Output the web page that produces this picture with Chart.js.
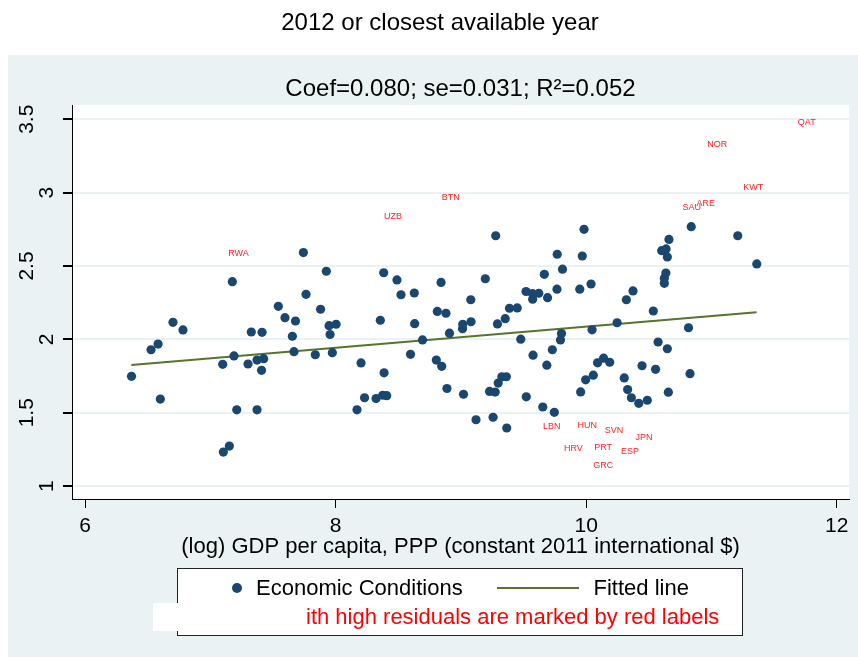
<!DOCTYPE html>
<html>
<head>
<meta charset="utf-8">
<script src="https://cdn.jsdelivr.net/npm/chart.js@4.4.1/dist/chart.umd.min.js"></script>
<style>
  html, body { margin: 0; padding: 0; background: #fff; }
</style>
</head>
<body>
<canvas id="chart" width="858" height="657"></canvas>
<script>
// (log) GDP per capita, PPP
const gdp = [
  6.371, 6.527, 6.583, 6.601, 6.702, 6.782, 7.099, 7.189, 7.176, 7.211,
  7.104, 7.152, 7.301, 7.327, 7.373, 7.426, 7.409, 7.413, 7.373, 7.543,
  7.596, 7.680, 7.655, 7.668, 7.743, 7.764, 7.838, 7.880, 7.926, 7.948,
  8.004, 7.956, 7.974, 8.171, 8.203, 8.231, 8.323, 8.376, 8.408, 8.357,
  8.387, 8.384, 8.490, 8.522, 8.628, 8.631, 8.598, 8.694, 8.804, 8.847,
  8.842, 8.812, 8.881, 8.909, 8.889, 9.021, 9.013, 9.015, 9.081, 9.079,
  9.195, 9.278, 9.121, 9.257, 9.366, 9.229, 9.274, 9.298, 9.327, 9.363,
  9.292, 9.354, 9.388, 9.450, 9.478, 9.520, 9.572, 9.573, 9.622, 9.692,
  9.666, 9.576, 9.730, 9.686, 9.522, 9.654, 9.746, 9.769, 9.811, 9.767,
  9.803, 9.795, 9.983, 9.969, 10.039, 9.949, 10.047, 9.956, 9.996, 10.057,
  10.091, 10.139, 10.188, 10.247, 10.304, 10.321, 10.374, 10.331, 10.361, 10.420,
  10.488, 10.446, 10.554, 10.536, 10.574, 10.648, 10.656, 10.603, 10.638, 10.648,
  10.661, 10.636, 10.624, 10.624, 10.839, 10.817, 10.829, 11.210, 11.362
];
// Economic Conditions
const econ = [
  1.748, 1.929, 1.968, 1.593, 2.116, 2.064, 1.830, 1.887, 2.393, 1.520,
  1.232, 1.273, 1.832, 2.050, 1.859, 1.868, 1.789, 2.048, 1.520, 2.225,
  2.148, 2.125, 2.021, 1.916, 2.591, 2.307, 1.895, 2.205, 2.464, 2.093,
  2.103, 2.033, 1.909, 1.520, 1.839, 1.602, 1.597, 1.619, 1.616, 2.130,
  1.772, 2.454, 2.405, 2.304, 2.316, 2.107, 1.898, 1.996, 1.859, 1.816,
  2.388, 2.190, 2.178, 2.042, 1.665, 1.626, 2.073, 2.103, 2.120, 2.270,
  2.413, 2.706, 1.452, 1.469, 1.396, 1.645, 1.641, 1.702, 1.745, 1.745,
  2.105, 2.141, 2.212, 2.214, 2.001, 2.326, 2.311, 2.274, 2.314, 2.284,
  2.443, 1.892, 1.929, 1.824, 1.608, 1.539, 1.503, 2.580, 2.478, 2.342,
  2.040, 1.996, 2.750, 2.568, 2.377, 2.342, 2.065, 1.642, 1.724, 1.756,
  1.840, 1.872, 1.844, 2.113, 1.737, 2.270, 2.330, 1.658, 1.602, 1.564,
  1.585, 1.820, 1.796, 2.193, 1.982, 1.936, 1.640, 2.604, 2.616, 2.561,
  2.681, 2.452, 2.417, 2.382, 2.768, 2.079, 1.766, 2.706, 2.514
];
// fitted line end points
const fitX = [6.37, 11.36];
const fitY = [1.825, 2.184];
// high-residual countries (labels only)
const outlierCodes = ["RWA", "UZB", "BTN", "QAT", "NOR", "KWT", "SAU", "ARE",
  "LBN", "HUN", "SVN", "JPN", "HRV", "PRT", "ESP", "GRC"];
const outlierX = [7.225, 8.459, 8.919, 11.761, 11.047, 11.334, 10.843, 10.954,
  9.725, 10.009, 10.223, 10.462, 9.898, 10.135, 10.350, 10.137];
const outlierY = [2.582, 2.836, 2.964, 3.477, 3.325, 3.034, 2.897, 2.923,
  1.403, 1.416, 1.382, 1.330, 1.259, 1.261, 1.239, 1.139];
const xTicks = [6, 8, 10, 12];
const yTicks = [1, 1.5, 2, 2.5, 3, 3.5];
const yTickLabels = ["1", "1.5", "2", "2.5", "3", "3.5"];

const FONT = "'Liberation Sans', Arial, sans-serif";
const NAVY = "#1a476f";
const GREEN = "#55752f";
const PANEL = "#eaf2f3";

Chart.defaults.font.family = FONT;
Chart.defaults.color = "#000";

const backdrop = {
  id: "backdrop",
  beforeDraw(chart) {
    const { ctx, chartArea: a } = chart;
    ctx.save();
    ctx.fillStyle = "#fff";
    ctx.fillRect(0, 0, chart.width, chart.height);
    ctx.fillStyle = PANEL;
    ctx.fillRect(8, 55, chart.width - 8, chart.height - 55);
    ctx.fillStyle = "#fff";
    ctx.fillRect(a.left, a.top, a.right - a.left, a.bottom - a.top);
    // main title
    ctx.fillStyle = "#000";
    ctx.font = "24px " + FONT;
    ctx.textAlign = "center";
    ctx.textBaseline = "middle";
    ctx.fillText("2012 or closest available year", 440, 23);
    ctx.restore();
  }
};

const yLabels = {
  id: "yLabels",
  afterDraw(chart) {
    const { ctx } = chart;
    const y = chart.scales.y;
    ctx.save();
    ctx.fillStyle = "#000";
    ctx.font = "21px " + FONT;
    ctx.textAlign = "center";
    ctx.textBaseline = "alphabetic";
    yTicks.forEach((v, i) => {
      const t = yTickLabels[i];
      const w = ctx.measureText(t).width;
      const bx = 66.3 - 1.14 * w;
      ctx.save();
      ctx.translate(bx, y.getPixelForValue(v));
      ctx.rotate(-Math.PI / 2);
      ctx.fillText(t, 0, 0);
      ctx.restore();
    });
    ctx.restore();
  }
};

const residualLabels = {
  id: "residualLabels",
  afterDatasetsDraw(chart) {
    const { ctx } = chart;
    const xs = chart.scales.x, ys = chart.scales.y;
    ctx.save();
    ctx.fillStyle = "#ff2020";
    ctx.font = "9px " + FONT;
    ctx.textAlign = "center";
    ctx.textBaseline = "middle";
    outlierCodes.forEach((c, i) => {
      ctx.fillText(c, xs.getPixelForValue(outlierX[i]), ys.getPixelForValue(outlierY[i]));
    });
    ctx.restore();
  }
};

const legendBox = {
  id: "legendBox",
  afterDraw(chart) {
    const { ctx } = chart;
    ctx.save();
    ctx.fillStyle = "#fff";
    ctx.fillRect(177.5, 568.5, 565, 67);
    ctx.strokeStyle = "#222";
    ctx.lineWidth = 1;
    ctx.strokeRect(177.5, 568.5, 565, 67);
    ctx.beginPath();
    ctx.arc(237, 588, 5, 0, Math.PI * 2);
    ctx.fillStyle = NAVY;
    ctx.fill();
    ctx.fillStyle = "#000";
    ctx.font = "22px " + FONT;
    ctx.textAlign = "left";
    ctx.textBaseline = "middle";
    ctx.fillText("Economic Conditions", 256, 589);
    ctx.beginPath();
    ctx.moveTo(497, 588);
    ctx.lineTo(579, 588);
    ctx.strokeStyle = GREEN;
    ctx.lineWidth = 2;
    ctx.stroke();
    ctx.fillText("Fitted line", 593.5, 589);
    // white strip over the second row
    ctx.fillStyle = "#fff";
    ctx.fillRect(153, 603, 560, 28);
    ctx.fillStyle = "#ff0000";
    ctx.fillText("ith high residuals are marked by red labels", 306, 618);
    ctx.restore();
  }
};

new Chart(document.getElementById("chart"), {
  type: "scatter",
  data: {
    datasets: [
      {
        label: "Economic Conditions",
        data: gdp.map((x, i) => ({ x: x, y: econ[i] })),
        pointRadius: 4.6,
        pointBackgroundColor: NAVY,
        pointBorderColor: NAVY,
        pointBorderWidth: 0
      },
      {
        label: "Fitted line",
        data: fitX.map((x, i) => ({ x: x, y: fitY[i] })),
        showLine: true,
        borderColor: GREEN,
        borderWidth: 2,
        pointRadius: 0
      }
    ]
  },
  options: {
    responsive: false,
    animation: false,
    devicePixelRatio: 1,
    layout: { padding: { left: 0, right: 9, top: 0, bottom: 97 } },
    plugins: {
      legend: { display: false },
      tooltip: { enabled: false },
      title: { display: false },
      subtitle: {
        display: true,
        fullSize: false,
        text: "Coef=0.080; se=0.031; R²=0.052",
        color: "#000",
        font: { size: 24 },
        padding: { top: 75, bottom: 1.2 }
      }
    },
    scales: {
      x: {
        type: "linear",
        min: 5.896,
        max: 12.098,
        afterBuildTicks: s => { s.ticks = xTicks.map(v => ({ value: v })); },
        afterFit: s => { s.height = 61; s.paddingLeft = 0; s.paddingRight = 0; },
        ticks: { font: { size: 21 }, color: "#000", padding: 6 },
        grid: { drawOnChartArea: false, drawTicks: true, tickLength: 9, tickColor: "#000" },
        border: { display: true, color: "#000", width: 1 },
        title: {
          display: true,
          text: "(log) GDP per capita, PPP (constant 2011 international $)",
          font: { size: 22 },
          color: "#000",
          padding: 0
        }
      },
      y: {
        type: "linear",
        min: 0.912,
        max: 3.597,
        afterBuildTicks: s => { s.ticks = yTicks.map(v => ({ value: v })); },
        afterFit: s => { s.width = 72; s.paddingTop = 0; s.paddingBottom = 0; },
        ticks: { display: false },
        grid: { color: PANEL, lineWidth: 2, drawTicks: true, tickLength: 9, tickColor: "#000" },
        border: { display: true, color: "#000", width: 1 }
      }
    }
  },
  plugins: [backdrop, yLabels, residualLabels, legendBox]
});
</script>
</body>
</html>
